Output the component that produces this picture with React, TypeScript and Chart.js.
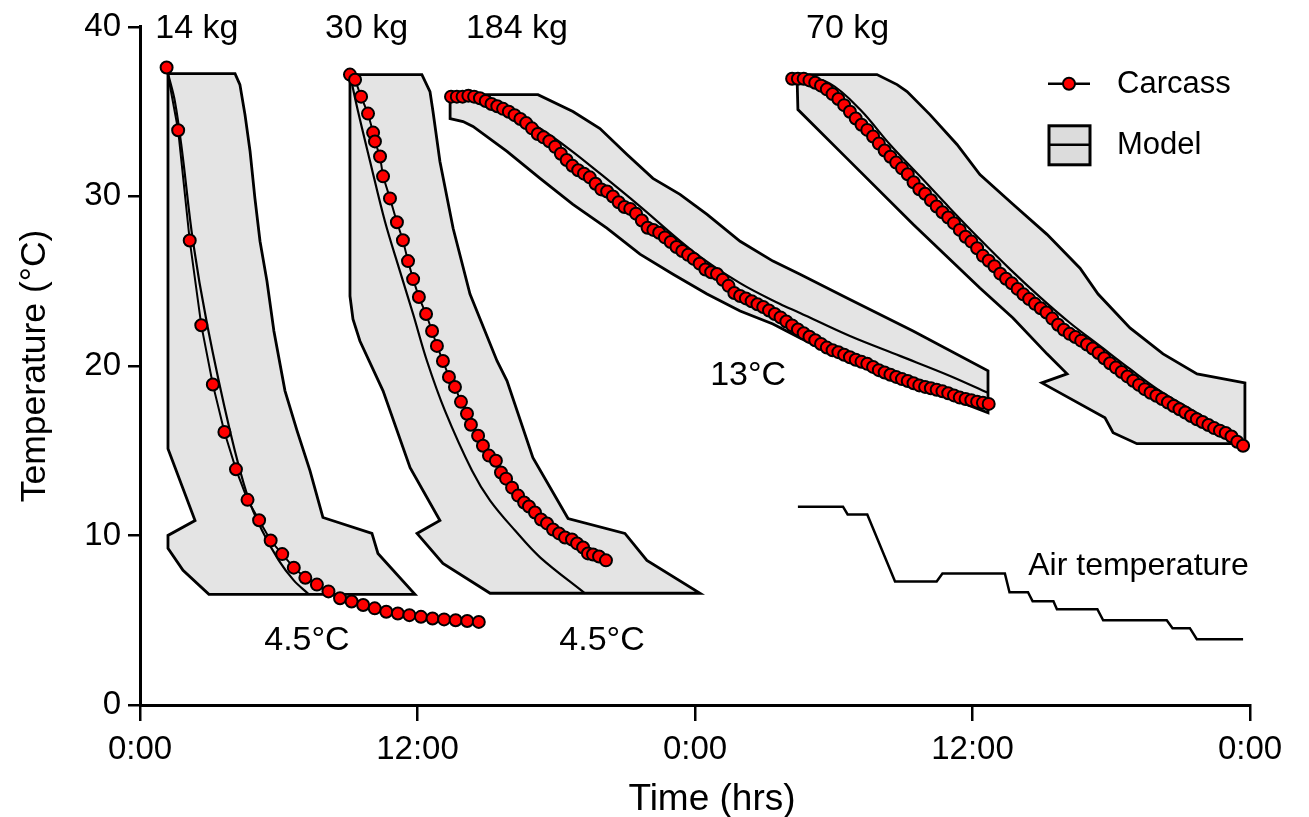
import { useEffect, useRef } from 'react';
import { Chart, registerables } from 'chart.js';

Chart.register(...registerables);

const FONT = "'Liberation Sans', Arial, Helvetica, sans-serif";

type P = [number, number];

// ---- axis ticks and titles ----
const xTickValues = [0, 12, 24, 36, 48];
const xTickLabels = ['0:00', '12:00', '0:00', '12:00', '0:00'];
const yTickValues = [0, 10, 20, 30, 40];
const xAxisTitle = 'Time (hrs)';
const yAxisTitle = 'Temperature (°C)';

// ---- carcass measurements: [hours, °C] ----
const carcass14: P[] = [
  [1.15, 37.6], [1.65, 33.9], [2.15, 27.4], [2.65, 22.4], [3.15, 18.9], [3.65, 16.1], [4.15, 13.9],
  [4.65, 12.1], [5.15, 10.9], [5.65, 9.7], [6.15, 8.9], [6.65, 8.1], [7.15, 7.5], [7.65, 7.1],
  [8.15, 6.7], [8.65, 6.3], [9.15, 6.1], [9.65, 5.9], [10.15, 5.7], [10.65, 5.5], [11.15, 5.4],
  [11.65, 5.3], [12.15, 5.2], [12.65, 5.1], [13.15, 5.05], [13.65, 5.0], [14.15, 4.95], [14.65, 4.9],
];

const carcass30: P[] = [
  [9.08, 37.18], [9.3, 36.88], [9.56, 35.88], [9.86, 34.88], [10.08, 33.76], [10.16, 33.24],
  [10.38, 32.35], [10.51, 31.18], [10.81, 29.88], [11.11, 28.47], [11.37, 27.41], [11.59, 26.18],
  [11.81, 25.12], [12.06, 24.06], [12.37, 23.06], [12.63, 22.06], [12.84, 21.18], [13.1, 20.29],
  [13.36, 19.35], [13.62, 18.76], [13.88, 17.88], [14.14, 17.18], [14.31, 16.53], [14.62, 15.88],
  [14.83, 15.29], [15.09, 14.71], [15.39, 14.41], [15.61, 13.71], [15.83, 13.35], [16.09, 12.82],
  [16.35, 12.35], [16.61, 11.94], [16.82, 11.71], [17.08, 11.35], [17.34, 10.94], [17.6, 10.71],
  [17.86, 10.35], [18.12, 10.12], [18.38, 9.88], [18.68, 9.76], [18.9, 9.53], [19.16, 9.29],
  [19.37, 8.94], [19.59, 8.88], [19.85, 8.76], [20.15, 8.53],
];

const carcass184: P[] = [
  [13.45, 35.88], [13.7, 35.88], [13.95, 35.88], [14.2, 35.94], [14.45, 35.88], [14.7, 35.79],
  [14.95, 35.62], [15.2, 35.45], [15.45, 35.31], [15.7, 35.16], [15.95, 34.99], [16.2, 34.79],
  [16.45, 34.56], [16.7, 34.32], [16.95, 34.01], [17.2, 33.68], [17.45, 33.48], [17.7, 33.25],
  [17.95, 32.92], [18.2, 32.51], [18.45, 32.14], [18.7, 31.8], [18.95, 31.54], [19.2, 31.34],
  [19.45, 31.12], [19.7, 30.74], [19.95, 30.41], [20.2, 30.29], [20.45, 29.99], [20.7, 29.65],
  [20.95, 29.37], [21.2, 29.26], [21.45, 28.98], [21.7, 28.58], [21.95, 28.15], [22.2, 28.02],
  [22.45, 27.85], [22.7, 27.58], [22.95, 27.31], [23.2, 27.01], [23.45, 26.78], [23.7, 26.55],
  [23.95, 26.31], [24.2, 26.03], [24.45, 25.69], [24.7, 25.52], [24.95, 25.42], [25.2, 25.08],
  [25.45, 24.72], [25.7, 24.3], [25.95, 24.12], [26.2, 23.98], [26.45, 23.81], [26.7, 23.64],
  [26.95, 23.47], [27.2, 23.27], [27.45, 23.06], [27.7, 22.86], [27.95, 22.62], [28.2, 22.39],
  [28.45, 22.15], [28.7, 21.93], [28.95, 21.72], [29.2, 21.51], [29.45, 21.29], [29.7, 21.08],
  [29.95, 20.92], [30.2, 20.81], [30.45, 20.66], [30.7, 20.51], [30.95, 20.36], [31.2, 20.24],
  [31.45, 20.12], [31.7, 19.94], [31.95, 19.75], [32.2, 19.61], [32.45, 19.48], [32.7, 19.35],
  [32.95, 19.22], [33.2, 19.11], [33.45, 18.98], [33.7, 18.85], [33.95, 18.76], [34.2, 18.68],
  [34.45, 18.59], [34.7, 18.5], [34.95, 18.39], [35.2, 18.26], [35.45, 18.13], [35.7, 18.05],
  [35.95, 17.97], [36.2, 17.89], [36.45, 17.82], [36.7, 17.76],
];

const carcass70: P[] = [
  [28.2, 36.94], [28.45, 36.94], [28.7, 36.94], [28.95, 36.84], [29.2, 36.7], [29.45, 36.53],
  [29.7, 36.31], [29.95, 36.03], [30.2, 35.74], [30.45, 35.38], [30.7, 34.99], [30.95, 34.59],
  [31.2, 34.22], [31.45, 33.92], [31.7, 33.53], [31.95, 33.11], [32.2, 32.7], [32.45, 32.34],
  [32.7, 31.99], [32.95, 31.65], [33.2, 31.3], [33.45, 30.83], [33.7, 30.42], [33.95, 30.15],
  [34.2, 29.77], [34.45, 29.4], [34.7, 29.06], [34.95, 28.75], [35.2, 28.42], [35.45, 28.02],
  [35.7, 27.62], [35.95, 27.33], [36.2, 26.94], [36.45, 26.49], [36.7, 26.2], [36.95, 25.88],
  [37.2, 25.44], [37.45, 25.14], [37.7, 24.87], [37.95, 24.54], [38.2, 24.22], [38.45, 23.94],
  [38.7, 23.66], [38.95, 23.4], [39.2, 23.15], [39.45, 22.79], [39.7, 22.43], [39.95, 22.13],
  [40.2, 21.89], [40.45, 21.7], [40.7, 21.49], [40.95, 21.26], [41.2, 21.03], [41.45, 20.76],
  [41.7, 20.45], [41.95, 20.16], [42.2, 19.9], [42.45, 19.64], [42.7, 19.38], [42.95, 19.12],
  [43.2, 18.88], [43.45, 18.63], [43.7, 18.42], [43.95, 18.24], [44.2, 18.05], [44.45, 17.84],
  [44.7, 17.63], [44.95, 17.44], [45.2, 17.25], [45.45, 17.04], [45.7, 16.85], [45.95, 16.69],
  [46.2, 16.51], [46.45, 16.33], [46.7, 16.18], [46.95, 16.04], [47.2, 15.84], [47.45, 15.53],
  [47.7, 15.29],
];

// ---- model central predictions ----
const model14: P[] = [
  [1.21, 37.24], [1.51, 35.59], [1.82, 32.65], [2.29, 27.35], [2.9, 22.47], [3.89, 16.18],
  [4.67, 12.24], [5.28, 10.29], [6.0, 8.53], [6.65, 7.35], [7.3, 6.53],
];
const model30: P[] = [
  [9.08, 37.18], [9.43, 35.0], [9.95, 32.06], [10.59, 28.53], [11.24, 25.59], [11.81, 23.06],
  [12.41, 20.29], [13.19, 17.35], [14.36, 13.82], [15.14, 12.06], [16.22, 10.29], [17.3, 8.71],
  [19.24, 6.59],
];
const model184: P[] = [
  [13.41, 36.0], [14.7, 35.71], [16.0, 35.0], [17.3, 34.0], [18.59, 32.76], [19.89, 31.35],
  [21.62, 29.41], [23.91, 26.76], [25.95, 24.88], [27.68, 23.65], [28.54, 23.12], [30.7, 21.76],
  [32.86, 20.59], [35.03, 19.41], [36.67, 18.41],
];
const model70: P[] = [
  [28.41, 37.18], [29.84, 36.65], [31.14, 35.12], [32.43, 33.06], [33.73, 31.18], [35.03, 29.29],
  [36.32, 27.47], [37.62, 25.71], [38.92, 24.06], [40.22, 22.53], [41.51, 21.18], [42.81, 19.82],
  [44.11, 18.53], [45.84, 17.12], [47.7, 15.47],
];

// ---- model uncertainty bands (closed outlines) ----
const band14: P[] = [
  [1.21, 37.24], [4.11, 37.24], [4.32, 36.59], [4.54, 34.82], [4.76, 32.65], [4.97, 29.88],
  [5.19, 27.35], [5.49, 25.0], [5.79, 22.06], [6.27, 18.53], [6.79, 16.18], [7.35, 13.82],
  [7.91, 11.06], [10.03, 10.12], [10.29, 8.94], [11.89, 6.53], [2.98, 6.53], [1.86, 7.94],
  [1.21, 9.24], [1.21, 10.0], [2.38, 10.88], [1.21, 15.12], [1.21, 37.24],
];
const band30: P[] = [
  [9.08, 37.18], [12.19, 37.18], [12.54, 36.18], [12.67, 35.0], [12.97, 32.06], [13.54, 28.12],
  [14.27, 24.24], [15.44, 20.29], [15.87, 19.12], [16.99, 14.59], [18.51, 11.0], [20.97, 10.12],
  [21.92, 8.53], [24.22, 6.59], [15.14, 6.59], [13.1, 8.35], [11.98, 10.12], [12.97, 10.88],
  [11.68, 14.0], [10.51, 18.53], [9.51, 21.47], [9.21, 22.76], [9.08, 24.12], [9.08, 37.18],
];
const band184: P[] = [
  [13.41, 36.0], [17.21, 36.0], [18.72, 35.0], [19.89, 34.0], [21.06, 32.47], [22.18, 31.06],
  [23.35, 30.12], [24.52, 28.94], [25.95, 27.35], [27.37, 26.18], [28.54, 25.41], [30.57, 24.0],
  [33.43, 22.06], [36.67, 19.71], [36.67, 17.24], [33.43, 18.94], [30.57, 20.29], [28.54, 21.65],
  [27.37, 22.47], [25.95, 23.24], [24.52, 24.24], [23.05, 25.41], [21.62, 26.59], [20.19, 28.12],
  [18.72, 29.53], [17.3, 31.06], [15.87, 32.65], [14.4, 34.12], [13.97, 34.41], [13.41, 34.59],
  [13.41, 36.0],
];
const band70: P[] = [
  [28.41, 37.18], [31.87, 37.18], [32.74, 36.59], [33.17, 36.18], [34.16, 34.82], [35.33, 33.06],
  [36.32, 31.29], [37.75, 29.53], [39.22, 27.76], [40.65, 25.76], [41.43, 24.24], [42.81, 22.24],
  [44.24, 20.71], [45.71, 19.53], [47.78, 19.0], [47.78, 15.41], [43.11, 15.41], [42.08, 16.06],
  [41.73, 16.94], [39.0, 19.0], [40.09, 19.53], [39.22, 20.71], [37.75, 22.82], [36.32, 24.59],
  [33.43, 28.35], [30.57, 32.24], [28.45, 35.12], [28.41, 37.18],
];

// ---- air temperature ----
const airTemp: P[] = [
  [28.45, 11.7], [30.4, 11.7], [30.6, 11.24], [31.45, 11.24], [32.65, 7.29], [34.45, 7.29],
  [34.7, 7.76], [37.4, 7.76], [37.6, 6.65], [38.4, 6.65], [38.6, 6.12], [39.5, 6.12],
  [39.65, 5.65], [41.4, 5.65], [41.65, 5.0], [44.4, 5.0], [44.65, 4.53], [45.4, 4.53],
  [45.7, 3.88], [47.7, 3.88],
];

// ---- text annotations (data coordinates) ----
const annotationTexts = ['14 kg', '30 kg', '184 kg', '70 kg', '4.5°C', '4.5°C', '13°C', 'Air temperature'];
const annotationHours = [2.46, 9.8, 16.3, 30.6, 7.22, 19.98, 26.3, 43.18];
const annotationTemps = [39.88, 39.88, 39.88, 39.88, 3.82, 3.82, 19.4, 8.18];
const annotationSizes = [34, 34, 34, 34, 34, 34, 34, 32];

const legendLabels = ['Carcass', 'Model'];

const toXY = (arr: P[]) => arr.map(([x, y]) => ({ x, y }));

const carcassDs = (label: string, arr: P[]) => ({
  label,
  data: toXY(arr),
  borderColor: '#000',
  borderWidth: 2,
  pointRadius: 6,
  pointHoverRadius: 6,
  pointBackgroundColor: '#ff0000',
  pointBorderColor: '#000',
  pointBorderWidth: 2,
  fill: false,
  tension: 0,
  order: 0,
});
const modelDs = (label: string, arr: P[]) => ({
  label,
  data: toXY(arr),
  borderColor: '#000',
  borderWidth: 2.2,
  pointRadius: 0,
  fill: false,
  tension: 0.35,
  order: 1,
});
const bandDs = (label: string, arr: P[]) => ({
  label,
  data: toXY(arr),
  borderColor: '#000',
  borderWidth: 2.8,
  backgroundColor: '#e4e4e4',
  pointRadius: 0,
  fill: 'shape',
  tension: 0,
  order: 2,
});

const overlayPlugin = {
  id: 'overlay',
  afterDraw(chart: any) {
    const { ctx, scales, chartArea } = chart;
    const x = scales.x;
    const y = scales.y;
    ctx.save();
    ctx.fillStyle = '#000';
    ctx.textAlign = 'center';
    ctx.textBaseline = 'middle';
    annotationTexts.forEach((t, i) => {
      ctx.font = `${annotationSizes[i]}px ${FONT}`;
      ctx.fillText(t, x.getPixelForValue(annotationHours[i]), y.getPixelForValue(annotationTemps[i]));
    });

    // x axis title (sits a little right of centre in the original)
    ctx.font = `37px ${FONT}`;
    ctx.fillText(xAxisTitle, (chartArea.left + chartArea.right) / 2 + 17, chartArea.bottom + 95);

    // legend
    const lx = chartArea.right - 202;
    const ly1 = chartArea.top + 57;
    const ly2 = chartArea.top + 118;
    ctx.strokeStyle = '#000';
    ctx.lineWidth = 2.5;
    ctx.beginPath();
    ctx.moveTo(lx, ly1);
    ctx.lineTo(lx + 42, ly1);
    ctx.stroke();
    ctx.beginPath();
    ctx.arc(lx + 21, ly1, 6, 0, Math.PI * 2);
    ctx.fillStyle = '#ff0000';
    ctx.fill();
    ctx.lineWidth = 2;
    ctx.stroke();

    ctx.fillStyle = '#dcdcdc';
    ctx.fillRect(lx + 1, ly2 - 19, 41, 39);
    ctx.lineWidth = 3;
    ctx.strokeRect(lx + 1, ly2 - 19, 41, 39);
    ctx.lineWidth = 2.5;
    ctx.beginPath();
    ctx.moveTo(lx + 1, ly2);
    ctx.lineTo(lx + 42, ly2);
    ctx.stroke();

    ctx.fillStyle = '#000';
    ctx.font = `31px ${FONT}`;
    ctx.textAlign = 'left';
    ctx.fillText(legendLabels[0], lx + 69, ly1 + 1);
    ctx.fillText(legendLabels[1], lx + 69, ly2 + 1);
    ctx.restore();
  },
};

export default function App() {
  const ref = useRef<HTMLCanvasElement>(null);
  useEffect(() => {
    const canvas = ref.current;
    if (!canvas) return;
    Chart.defaults.font.family = FONT;
    Chart.defaults.color = '#000';
    const chart = new Chart(canvas, {
      type: 'line',
      data: {
        datasets: [
          carcassDs('Carcass 14 kg', carcass14),
          carcassDs('Carcass 30 kg', carcass30),
          carcassDs('Carcass 184 kg', carcass184),
          carcassDs('Carcass 70 kg', carcass70),
          modelDs('Model 14 kg', model14),
          modelDs('Model 30 kg', model30),
          modelDs('Model 184 kg', model184),
          modelDs('Model 70 kg', model70),
          { ...modelDs('Air temperature', airTemp), tension: 0, borderWidth: 2.5 },
          bandDs('Band 14 kg', band14),
          bandDs('Band 30 kg', band30),
          bandDs('Band 184 kg', band184),
          bandDs('Band 70 kg', band70),
        ] as any,
      },
      options: {
        animation: false,
        responsive: false,
        maintainAspectRatio: false,
        layout: { padding: { left: 0, right: 59, top: 25, bottom: 0 } },
        plugins: {
          legend: { display: false },
          tooltip: { enabled: false },
        },
        scales: {
          x: {
            type: 'linear',
            min: 0,
            max: 48,
            afterBuildTicks: (s: any) => {
              s.ticks = xTickValues.map((v) => ({ value: v }));
            },
            ticks: {
              callback: (v: any) => xTickLabels[xTickValues.indexOf(Number(v))],
              font: { size: 33 },
              color: '#000',
              padding: 9,
              maxRotation: 0,
              autoSkip: false,
            },
            grid: { drawOnChartArea: false, drawTicks: true, tickLength: 16, color: '#000', lineWidth: 2.5 },
            border: { display: true, color: '#000', width: 3 },
            title: { display: false },
            afterFit: (s: any) => {
              s.height = 112;
            },
          },
          y: {
            type: 'linear',
            min: 0,
            max: 40,
            afterBuildTicks: (s: any) => {
              s.ticks = yTickValues.map((v) => ({ value: v }));
            },
            ticks: { font: { size: 33 }, color: '#000', padding: 7 },
            grid: { drawOnChartArea: false, drawTicks: true, tickLength: 12, color: '#000', lineWidth: 2.5 },
            border: { display: true, color: '#000', width: 3 },
            title: {
              display: true,
              text: yAxisTitle,
              font: { size: 35.5, lineHeight: 1.0 },
              color: '#000',
              padding: { top: 17, bottom: 0 },
            },
            afterFit: (s: any) => {
              s.width = 140;
            },
          },
        },
      } as any,
      plugins: [overlayPlugin],
    });
    return () => chart.destroy();
  }, []);
  return (
    <div style={{ position: 'absolute', left: 0, top: 0, width: 1309, height: 817, background: '#fff' }}>
      <canvas ref={ref} width={1309} height={817} style={{ display: 'block', width: 1309, height: 817 }} />
    </div>
  );
}
